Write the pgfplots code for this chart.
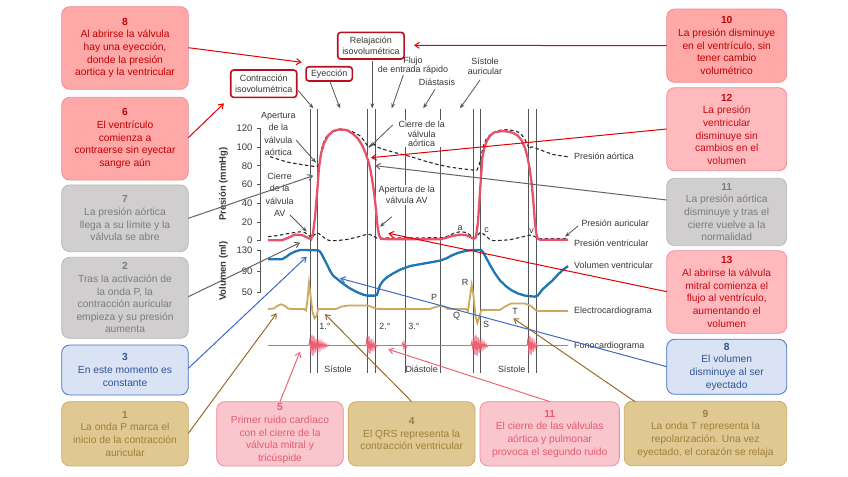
\documentclass[border=0pt]{standalone}
\usepackage{fontspec}
\setmainfont{Liberation Sans}
\usepackage{pgfplots}
\pgfplotsset{compat=1.18}
\usetikzlibrary{arrows.meta}

\definecolor{vred}{RGB}{232,82,104}
\definecolor{vblue}{RGB}{30,118,178}
\definecolor{ecg}{RGB}{204,168,96}
\definecolor{phono}{RGB}{236,96,116}
\definecolor{vline}{RGB}{85,85,85}
\definecolor{txt}{RGB}{55,55,55}
\definecolor{dash}{RGB}{40,40,40}
\definecolor{lblred}{RGB}{185,15,30}
% boxes
\definecolor{rfill}{RGB}{255,168,168}
\definecolor{rborder}{RGB}{240,140,150}
\definecolor{rtext}{RGB}{192,0,0}
\definecolor{qfill}{RGB}{255,186,190}
\definecolor{qborder}{RGB}{240,140,150}
\definecolor{qtext}{RGB}{200,10,20}
\definecolor{gfill}{RGB}{208,206,206}
\definecolor{gborder}{RGB}{185,185,185}
\definecolor{gtext}{RGB}{125,125,125}
\definecolor{bfill}{RGB}{218,227,243}
\definecolor{bborder}{RGB}{68,114,196}
\definecolor{btext}{RGB}{47,85,151}
\definecolor{tfill}{RGB}{224,200,146}
\definecolor{tborder}{RGB}{205,172,100}
\definecolor{ttext}{RGB}{160,128,56}
\definecolor{pfill}{RGB}{248,198,204}
\definecolor{pborder}{RGB}{240,140,155}
\definecolor{ptext}{RGB}{230,92,110}
% connectors
\definecolor{cred}{RGB}{225,0,0}
\definecolor{cgray}{RGB}{100,100,100}
\definecolor{cblue}{RGB}{60,105,195}
\definecolor{ctan}{RGB}{150,110,35}
\definecolor{cpink}{RGB}{240,100,120}

\pgfplotsset{
  pix/.style={at={(0,0)}, anchor=south west, scale only axis,
    width=848bp, height=477bp, xmin=0, xmax=848, ymin=0, ymax=477,
    enlargelimits=false, y dir=reverse, hide axis, clip=false},
  sub/.style={anchor=south west, scale only axis, width=308bp,
    xmin=260, xmax=568, enlargelimits=false, clip=false,
    axis x line=none, axis y line*=left, xtick=\empty,
    tick align=outside, major tick length=3bp,
    axis line style={draw=vline, line width=0.8bp},
    ytick style={draw=vline, line width=0.8bp},
    yticklabel style={font=\fontsize{9.5}{10}\selectfont, text=txt, xshift=-1bp},
    /pgf/number format/assume math mode=true},
}
\tikzset{
  bx/.style={rounded corners=8bp, line width=0.8bp, align=center, inner sep=0pt,
    font=\fontsize{10.3}{12.7}\selectfont},
  lbl/.style={font=\fontsize{9}{11}\selectfont, text=txt, align=center, inner sep=0.6bp},
  top/.style={draw=lblred, line width=1.6bp, rounded corners=3bp, fill=white,
    align=center, inner sep=0pt, font=\fontsize{9}{11.5}\selectfont, text=txt},
  vl/.style={draw=vline, line width=0.9bp},
}
\newcommand{\bx}[6]{\node[bx,fill=#1fill,draw=#1border,text=#1text,minimum width=#4bp,minimum height=#5bp] at (axis cs:#2,#3) {#6};}
\newcommand{\cn}[5]{\draw[#1, line width=1bp, -{Straight Barb[length=4.5bp,width=6bp]}] (axis cs:#2,#3) -- (axis cs:#4,#5);}
\newcommand{\da}[4]{\draw[vline, line width=0.8bp, -{Stealth[length=5bp,width=4bp]}] (axis cs:#1,#2) -- (axis cs:#3,#4);}

\begin{document}
\begin{tikzpicture}
% ---------------- background layer ----------------
\begin{axis}[pix]
\path (axis cs:0,0) rectangle (axis cs:848,477);
% vertical lines
\draw[vl] (axis cs:310.7,109) -- (axis cs:310.7,373);
\draw[vl] (axis cs:317.3,109) -- (axis cs:317.3,373);
\draw[vl] (axis cs:367.7,109) -- (axis cs:367.7,373);
\draw[vl] (axis cs:375,109) -- (axis cs:375,373);
\draw[vl] (axis cs:405,109) -- (axis cs:405,373);
\draw[vl] (axis cs:440.7,109) -- (axis cs:440.7,373);
\draw[vl] (axis cs:473.5,109) -- (axis cs:473.5,373);
\draw[vl] (axis cs:480.7,109) -- (axis cs:480.7,373);
\draw[vl] (axis cs:528.7,109) -- (axis cs:528.7,373);
\draw[vl] (axis cs:536.3,109) -- (axis cs:536.3,373);

% top phase labels
\node[top, minimum width=66bp, minimum height=27.3bp] at (axis cs:263.7,83.7) {Contracción\\isovolumétrica};
\node[top, minimum width=46.3bp, minimum height=14.3bp] at (axis cs:329.2,73.9) {Eyección};
\node[top, minimum width=66.3bp, minimum height=26.7bp] at (axis cs:370.9,45.7) {Relajación\\isovolumétrica};
\node[lbl, font=\fontsize{9}{9.6}\selectfont] at (axis cs:413,65.5) {Flujo\\de entrada rápido};
\node[lbl] at (axis cs:437,82.7) {Diástasis};
\node[lbl, font=\fontsize{9}{9.6}\selectfont] at (axis cs:485,66.5) {Sístole\\auricular};
\da{298.3}{90.7}{313.3}{108.3}
\da{330}{81.7}{340}{108.3}
\da{372.3}{61}{372.3}{108.3}
\da{403.3}{75}{391.7}{108.3}
\da{435}{89.3}{423.3}{108.3}
\da{480}{80}{460}{108.3}

% inner labels
\node[lbl, font=\fontsize{9}{12.2}\selectfont] at (axis cs:278.3,134) {Apertura\\de la\\válvula\\aórtica};
\node[lbl, font=\fontsize{9}{12.4}\selectfont] at (axis cs:279.7,194.7) {Cierre\\de la\\válvula\\AV};
\node[lbl, fill=white, font=\fontsize{9}{9.6}\selectfont] at (axis cs:421.7,133.8) {Cierre de la\\válvula\\aórtica};
\node[lbl, fill=white, font=\fontsize{9}{11.5}\selectfont] at (axis cs:406.7,195) {Apertura de la\\válvula AV};
\da{296}{140}{316}{162.7}
\da{392.7}{125}{370}{146.7}
\da{290}{215}{306.7}{231.7}
\da{391.7}{216.7}{380}{226.7}
\da{578}{226}{565}{236.7}

% right labels
\node[lbl, anchor=west] at (axis cs:573.3,156.7) {Presión aórtica};
\node[lbl, anchor=west] at (axis cs:580.7,223.3) {Presión auricular};
\node[lbl, anchor=west] at (axis cs:573.3,243.3) {Presión ventricular};
\node[lbl, anchor=west] at (axis cs:573.3,265) {Volumen ventricular};
\node[lbl, anchor=west] at (axis cs:573.3,311.3) {Electrocardiograma};
\node[lbl, anchor=west] at (axis cs:573.3,346.5) {Fonocardiograma};

% small labels
\node[lbl] at (axis cs:460,228.5) {a};
\node[lbl] at (axis cs:486.7,230.5) {c};
\node[lbl] at (axis cs:531.7,231) {v};
\node[lbl] at (axis cs:434,297.3) {P};
\node[lbl] at (axis cs:456.7,316.7) {Q};
\node[lbl] at (axis cs:465,282.3) {R};
\node[lbl] at (axis cs:486,324) {S};
\node[lbl] at (axis cs:515,311.7) {T};
\node[lbl] at (axis cs:325,326) {1.°};
\node[lbl] at (axis cs:385,326) {2.°};
\node[lbl] at (axis cs:414,326) {3.°};
\node[lbl] at (axis cs:338,369) {Sístole};
\node[lbl] at (axis cs:421.7,369) {Diástole};
\node[lbl] at (axis cs:511.7,369) {Sístole};

% axis titles
\node[lbl, rotate=90, font=\bfseries\fontsize{9.5}{10}\selectfont] at (axis cs:223.3,184) {Presión (mmHg)};
\node[lbl, rotate=90, font=\bfseries\fontsize{9.5}{10}\selectfont] at (axis cs:223.3,271) {Volumen (ml)};

% ECG
\addplot[color=ecg, line width=1.8bp, mark=none] coordinates {
(268,309)(274,308.5)(277,306)(281,304.3)(285,306)(288,308.5)(292,309)(304,309)
(306,310.5)(307.5,300)(309,283)(310.5,295)(312.5,312)(314.5,318.3)(316.5,316)(318.3,309)
(336,309)(342,306.5)(348,305.5)(368,305.5)(374,308)(378,309)
(430,309)(434,307.5)(439,306)(444,306.5)(448,309)(466,309)(468,311)(469.5,300)
(471.7,285)(473.5,296)(475.5,316)(477.3,323)(479,318)(481,311)(482,310)
(500,310)(505,306.5)(511,303.5)(525,303.5)(531,306)(536,310.5)(540,311)(568,311)};

% Phonocardiogram
\addplot[color=phono, line width=0.9bp, mark=none] coordinates {
(268,345.5)(309,345.5)(310,338)(311,354)(312,335)(313,356)(314,336)(315,353)(316,339)
(317,351)(318,340)(319,350)(320,341)(321,349)(322,342)(323,348)(324,343)(325,347.5)
(326,344)(327,346.5)(328,345)(329,345.5)
(366,345.5)(367,337)(368,353)(369,336)(370,354)(371,339)(372,351)(373,341)(374,349)
(375,343)(376,347)(377,345.5)
(402,345.5)(403,342)(404,349)(405,342)(406,348)(407,345.5)
(471,345.5)(472,341)(473,350)(474,336)(475,355)(476,335)(477,356)(478,337)(479,353)
(480,339)(481,351)(482,341)(483,349)(484,342)(485,348)(486,344)(487,347)(488,345.5)
(527,345.5)(528,338)(529,354)(530,336)(531,355)(532,338)(533,352)(534,341)(535,349)
(536,343)(537,347)(538,345.5)(568,345.5)};

% boxes, left column
\bx{r}{125}{48}{126.6}{82.6}{\textbf{8}\\Al abrirse la válvula\\hay una eyección,\\donde la presión\\aortica y la ventricular}
\bx{r}{125}{138.7}{126.6}{82.7}{\textbf{6}\\El ventrículo\\comienza a\\contraerse sin eyectar\\sangre aún}
\bx{g}{125}{218.3}{126.6}{66.7}{\textbf{7}\\La presión aórtica\\llega a su límite y la\\válvula se abre}
\bx{g}{125}{297.8}{126.6}{81}{\textbf{2}\\Tras la activación de\\la onda P, la\\contracción auricular\\empieza y su presión\\aumenta}
\bx{b}{125}{370}{126.6}{50}{\textbf{3}\\En este momento es\\constante}
\bx{t}{125}{433.8}{126.6}{64.3}{\textbf{1}\\La onda P marca el\\inicio de la contracción\\auricular}
% bottom row
\bx{p}{280}{433.8}{126.6}{64.3}{\textbf{5}\\Primer ruido cardíaco\\con el cierre de la\\válvula mitral y\\tricúspide}
\bx{t}{411.7}{433.8}{126.7}{64.3}{\textbf{4}\\El QRS representa la\\contracción ventricular}
\bx{p}{549.7}{433.8}{139.3}{64.3}{\textbf{11}\\El cierre de las válvulas\\aórtica y pulmonar\\provoca el segundo ruido}
\bx{t}{705.5}{433.5}{162.4}{64.6}{\textbf{9}\\La onda T representa la\\repolarización. Una vez\\eyectado, el corazón se relaja}
% right column
\bx{r}{726.7}{45.7}{120}{73.3}{\textbf{10}\\La presión disminuye\\en el ventrículo, sin\\tener cambio\\volumétrico}
\bx{q}{726.7}{129.2}{120}{83}{\textbf{12}\\La presión\\ventricular\\disminuye sin\\cambios en el\\volumen}
\bx{g}{726.7}{212}{120}{67.4}{\textbf{11}\\La presión aórtica\\disminuye y tras el\\cierre vuelve a la\\normalidad}
\bx{q}{726.7}{292}{120}{82.6}{\textbf{13}\\Al abrirse la válvula\\mitral comienza el\\flujo al ventrículo,\\aumentando el\\volumen}
\bx{b}{726.7}{366.8}{120}{55}{\textbf{8}\\El volumen\\disminuye al ser\\eyectado}
\end{axis}

% ---------------- pressure axis ----------------
\begin{axis}[sub, at={(260bp,236.3bp)}, height=112.4bp, ymin=0, ymax=120,
  ytick={0,20,...,120}]
\addplot[color=dash, line width=1.1bp, dash pattern=on 3.5bp off 2.5bp, mark=none] coordinates {
(270,89.7)(287,84)(303,81)(316,79)(318.5,80)(320,88)(322,100)(325,109)(329,114)
(337,118)(345,118)(350,117.5)(355,115)(360,112)(364,107)(367,102)(368.7,99.5)
(370.5,101.5)(372,104)(374,103)(377,100)(385,97)(395,94)(410,90)(425,85)(437,81.5)
(450,78.5)(460,77)(476.7,75)(479,80)(481,90)(483.3,101)(486,108)(490,113)(495,116)
(500,118)(507,118.5)(513.3,117.5)(518,116)(521.7,113)(525,108)(527.5,102.5)(529.3,98)
(531,100)(533,100)(540,97)(553,92)(568,89.5)};
\addplot[color=dash, line width=1.1bp, dash pattern=on 3.5bp off 2.5bp, mark=none] coordinates {
(268,4.3)(278,5.5)(285,7)(293,8.5)(300,9.5)(305,8.5)(309,5.5)(312,3)(314,6)(316.7,8.5)
(319,7.5)(322,5)(326,1.5)(330,0)(338,0.2)(348,1.5)(358,4)(366.7,6.8)(370,6.5)(373,5)
(377,2.8)(380,2.8)(443,3.2)(448,5)(454,8)(460,9.6)(465,9)(469,7)(473,2.9)(476,4)
(480,8.5)(483,7.5)(486,5)(489,2)(493,0)(500,0.3)(510,1)(520,3.5)(530,6)(533,5.5)
(537,3)(540,2.2)(568,2.2)};
\addplot[color=vred, line width=2.3bp, mark=none] coordinates {
(268,0.5)(282,0.5)(288,3)(295,6.5)(302,6)(308,3)(311,1.5)(313,8)(315,25)(317,50)
(319,78)(321,93)(324,104)(328,112)(333,117)(340,119)(347,118)(353,114)(358,109)
(362,102)(365,95)(368,86)(370,78)(372,66)(374,52)(375.5,38)(376.7,25)(377.7,14)
(379,6)(381,2)(390,1.5)(440,1.5)(446,3)(452,5)(460,6.5)(466,6)(471,3.5)(474,2)
(476,4)(478,20)(480,52)(482.3,88)(484.5,100)(487,107)(490,112)(494,115.5)(501.7,117)
(508,116.5)(513.3,115)(518,112)(521.7,107)(525,99)(527.3,90)(529.5,78)(531.7,61)
(533.5,40)(535,19)(536.3,8)(537.5,2.5)(540,1)(568,1)};
\end{axis}

% ---------------- volume axis ----------------
\begin{axis}[sub, at={(260bp,184.3bp)}, height=42.7bp, ymin=50, ymax=130,
  ytick={50,90,130}]
\addplot[color=vblue, line width=2.3bp, mark=none] coordinates {
(268,112.6)(282,112.6)(286,117)(290,122.5)(295,127)(300,130)(318,129.5)(320,127)
(322,121)(325,110)(328,99)(330,91)(333,82)(337,76)(343,67)(350,58)(357,51)
(363,46.5)(367,44.5)(375,44.5)(377,46)(378.5,55)(380,64)(383,72)(387,79)(393,86)
(400,93)(410,100)(425,105)(440,110)(446,114)(452,120)(458,124.5)(465,128)(472,130)
(481,130)(483,126)(486,116)(490,102)(495,86)(500,73)(506,62)(512,54)(518,48.5)
(525,44.5)(535,42.5)(538,45)(542,55)(547,64)(552,72)(558,84)(563,93)(568,100)};
\end{axis}

% ---------------- connector layer ----------------
\begin{axis}[pix]
\cn{cred}{188.3}{47.7}{301.7}{62.3}
\cn{cred}{188.3}{137.7}{224}{103.3}
\cn{cgray}{188.3}{218.3}{313.3}{175.7}
\cn{cgray}{188.3}{296.7}{300}{242.7}
\cn{cblue}{188.3}{368.3}{306.7}{256.7}
\cn{ctan}{188.3}{433.3}{276.7}{313.3}
\cn{cpink}{280}{401.7}{300}{351.7}
\cn{ctan}{411.7}{401.7}{325}{314}
\cn{cpink}{550}{401.7}{388.3}{349.3}
\cn{ctan}{635}{401.7}{513.3}{318.3}
\cn{cblue}{666.7}{366.7}{340}{278.3}
\cn{cred}{666.7}{291.7}{388.3}{233.3}
\cn{cgray}{666.7}{200}{375}{165.7}
\cn{cred}{666.7}{129}{371}{157.7}
\cn{cred}{666.7}{45.7}{414}{45.3}
\end{axis}
\end{tikzpicture}
\end{document}
